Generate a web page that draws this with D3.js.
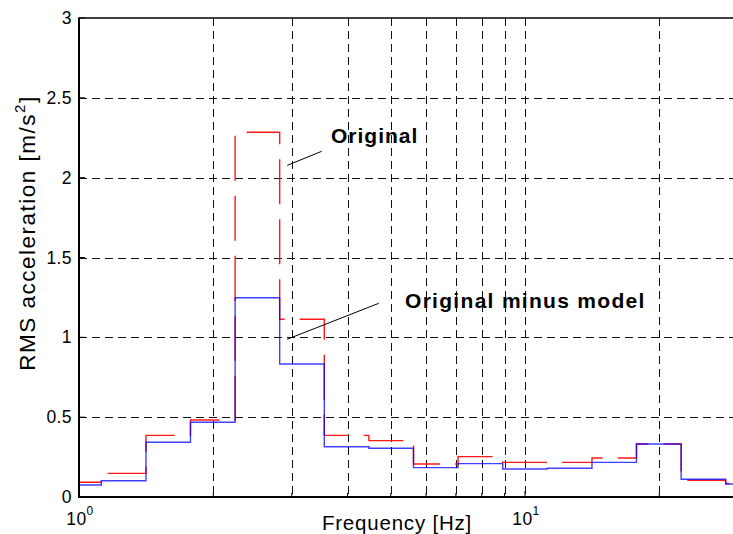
<!DOCTYPE html>
<html><head><meta charset="utf-8">
<script src="https://cdn.jsdelivr.net/npm/d3@7"></script>
<style>
html,body{margin:0;padding:0;background:#fff;}
svg{display:block;font-family:"Liberation Sans",Arial,sans-serif;}
</style></head>
<body><svg id="chart" width="733" height="534"></svg>
<script>
// One-third octave band edges (Hz) and band centres
const bandEdges = [0.891, 1.122, 1.413, 1.778, 2.239, 2.818, 3.548, 4.467, 5.623, 7.079, 8.913, 11.22, 14.13, 17.78, 22.39, 28.18, 35.48];
const bandCenters = [1, 1.25, 1.6, 2, 2.5, 3.15, 4, 5, 6.3, 8, 10, 12.5, 16, 20, 25, 31.5];
// RMS acceleration per band [m/s^2]
const original   = [0.092, 0.148, 0.386, 0.482, 2.284, 1.113, 0.386, 0.353, 0.207, 0.253, 0.217, 0.217, 0.244, 0.332, 0.105, 0.085];
const minusModel = [0.075, 0.102, 0.343, 0.468, 1.248, 0.833, 0.315, 0.305, 0.184, 0.209, 0.175, 0.180, 0.217, 0.332, 0.111, 0.081];
const yTicks = [0, 0.5, 1, 1.5, 2, 2.5, 3];
const yTickLabels = ["0", "0.5", "1", "1.5", "2", "2.5", "3"];
const xMajor = [1, 10];
const xMajorExp = ["0", "1"];
const xMinor = [2, 3, 4, 5, 6, 7, 8, 9, 20, 30];
const labels = {x: "Frequency [Hz]", yMain: "RMS acceleration [m/s", ySup: "2", yEnd: "]",
  a1: "Original", a2: "Original minus model"};

const svg = d3.select("#chart");
const L = 79, T = 18, B = 497, Rvis = 733;
const x = d3.scaleLog().domain([1, 31.623]).range([L, L + 446 * Math.log10(31.623)]);
const y = d3.scaleLinear().domain([0, 3]).range([B, T]);

svg.append("defs").append("clipPath").attr("id", "clip")
  .append("rect").attr("x", L).attr("y", T).attr("width", Rvis - L).attr("height", B - T);

// grid
const grid = svg.append("g").attr("stroke", "#111").attr("stroke-width", 1).attr("stroke-dasharray", "8,5").attr("clip-path", "url(#clip)");
grid.selectAll("line.v").data(xMinor.concat([10])).join("line")
  .attr("x1", d => Math.round(x(d)) + 0.5).attr("x2", d => Math.round(x(d)) + 0.5)
  .attr("y1", T).attr("y2", B);
grid.selectAll("line.h").data(yTicks.filter(d => d > 0 && d < 3)).join("line")
  .attr("y1", d => Math.round(y(d)) + 0.5).attr("y2", d => Math.round(y(d)) + 0.5)
  .attr("x1", L).attr("x2", Rvis);

// step lines
const pts = v => v.map((d, i) => [bandEdges[i], d]).concat([[bandEdges[v.length], v[v.length - 1]]]);
const line = d3.line().x(d => x(d[0])).y(d => y(d[1])).curve(d3.curveStepAfter);
const plot = svg.append("g").attr("clip-path", "url(#clip)");
plot.append("path").attr("d", line(pts(original))).attr("fill", "none")
  .attr("stroke", "#ff1a1a").attr("stroke-width", 1.4).attr("stroke-dasharray", "45,15");
plot.append("path").attr("d", line(pts(minusModel))).attr("fill", "none")
  .attr("stroke", "#0000ff").attr("stroke-opacity", 0.75).attr("stroke-width", 1.4);

// axes frame
svg.append("line").attr("x1", L).attr("x2", Rvis).attr("y1", T).attr("y2", T).attr("stroke", "#000").attr("stroke-width", 1.5);
svg.append("line").attr("x1", L).attr("x2", L).attr("y1", T - 0.5).attr("y2", B + 1).attr("stroke", "#000").attr("stroke-width", 2);
svg.append("line").attr("x1", L - 1).attr("x2", Rvis).attr("y1", B).attr("y2", B).attr("stroke", "#000").attr("stroke-width", 2);

// ticks
const ticks = svg.append("g").attr("stroke", "#000").attr("stroke-width", 1);
ticks.selectAll("line.yt").data(yTicks).join("line")
  .attr("x1", L).attr("x2", L + 6).attr("y1", d => y(d)).attr("y2", d => y(d));
ticks.selectAll("line.xt").data(xMinor.concat(xMajor).filter(d => x(d) < Rvis)).join("line")
  .attr("x1", d => x(d)).attr("x2", d => x(d)).attr("y1", B).attr("y2", d => B - (xMajor.includes(d) ? 6 : 4));

// y tick labels
svg.append("g").selectAll("text").data(yTicks).join("text")
  .attr("x", 72).attr("y", d => y(d) + 6).attr("text-anchor", "end")
  .attr("font-size", 17.5).attr("letter-spacing", 0.4).text((d, i) => yTickLabels[i]);

// x tick labels (10^n)
xMajor.forEach((d, i) => {
  const t = svg.append("text").attr("x", x(d) + 1).attr("y", 525).attr("text-anchor", "middle").attr("font-size", 17.5).attr("letter-spacing", 0.4);
  t.append("tspan").text("10");
  t.append("tspan").attr("dy", -10).attr("font-size", 12).text(xMajorExp[i]);
});

// axis labels
svg.append("text").attr("x", 397).attr("y", 530).attr("text-anchor", "middle")
  .attr("font-size", 20.5).attr("letter-spacing", 0.8).text(labels.x);
const yl = svg.append("text").attr("transform", "translate(35,233) rotate(-90)").attr("text-anchor", "middle")
  .attr("font-size", 22.5).attr("letter-spacing", 1.5);
yl.append("tspan").text(labels.yMain);
yl.append("tspan").attr("dy", -10).attr("font-size", 15).text(labels.ySup);
yl.append("tspan").attr("dy", 10).text(labels.yEnd);

// annotations
svg.append("text").attr("x", 331).attr("y", 143).attr("font-size", 21).attr("font-weight", "bold")
  .attr("letter-spacing", 1).text(labels.a1);
svg.append("line").attr("x1", x(2.93)).attr("y1", y(2.077)).attr("x2", x(3.5)).attr("y2", y(2.165)).attr("stroke", "#000").attr("stroke-width", 1);
svg.append("text").attr("x", 405).attr("y", 308).attr("font-size", 21).attr("font-weight", "bold")
  .attr("letter-spacing", 1.3).text(labels.a2);
svg.append("line").attr("x1", x(2.93)).attr("y1", y(0.988)).attr("x2", x(4.7)).attr("y2", y(1.213)).attr("stroke", "#000").attr("stroke-width", 1);
</script></body></html>
